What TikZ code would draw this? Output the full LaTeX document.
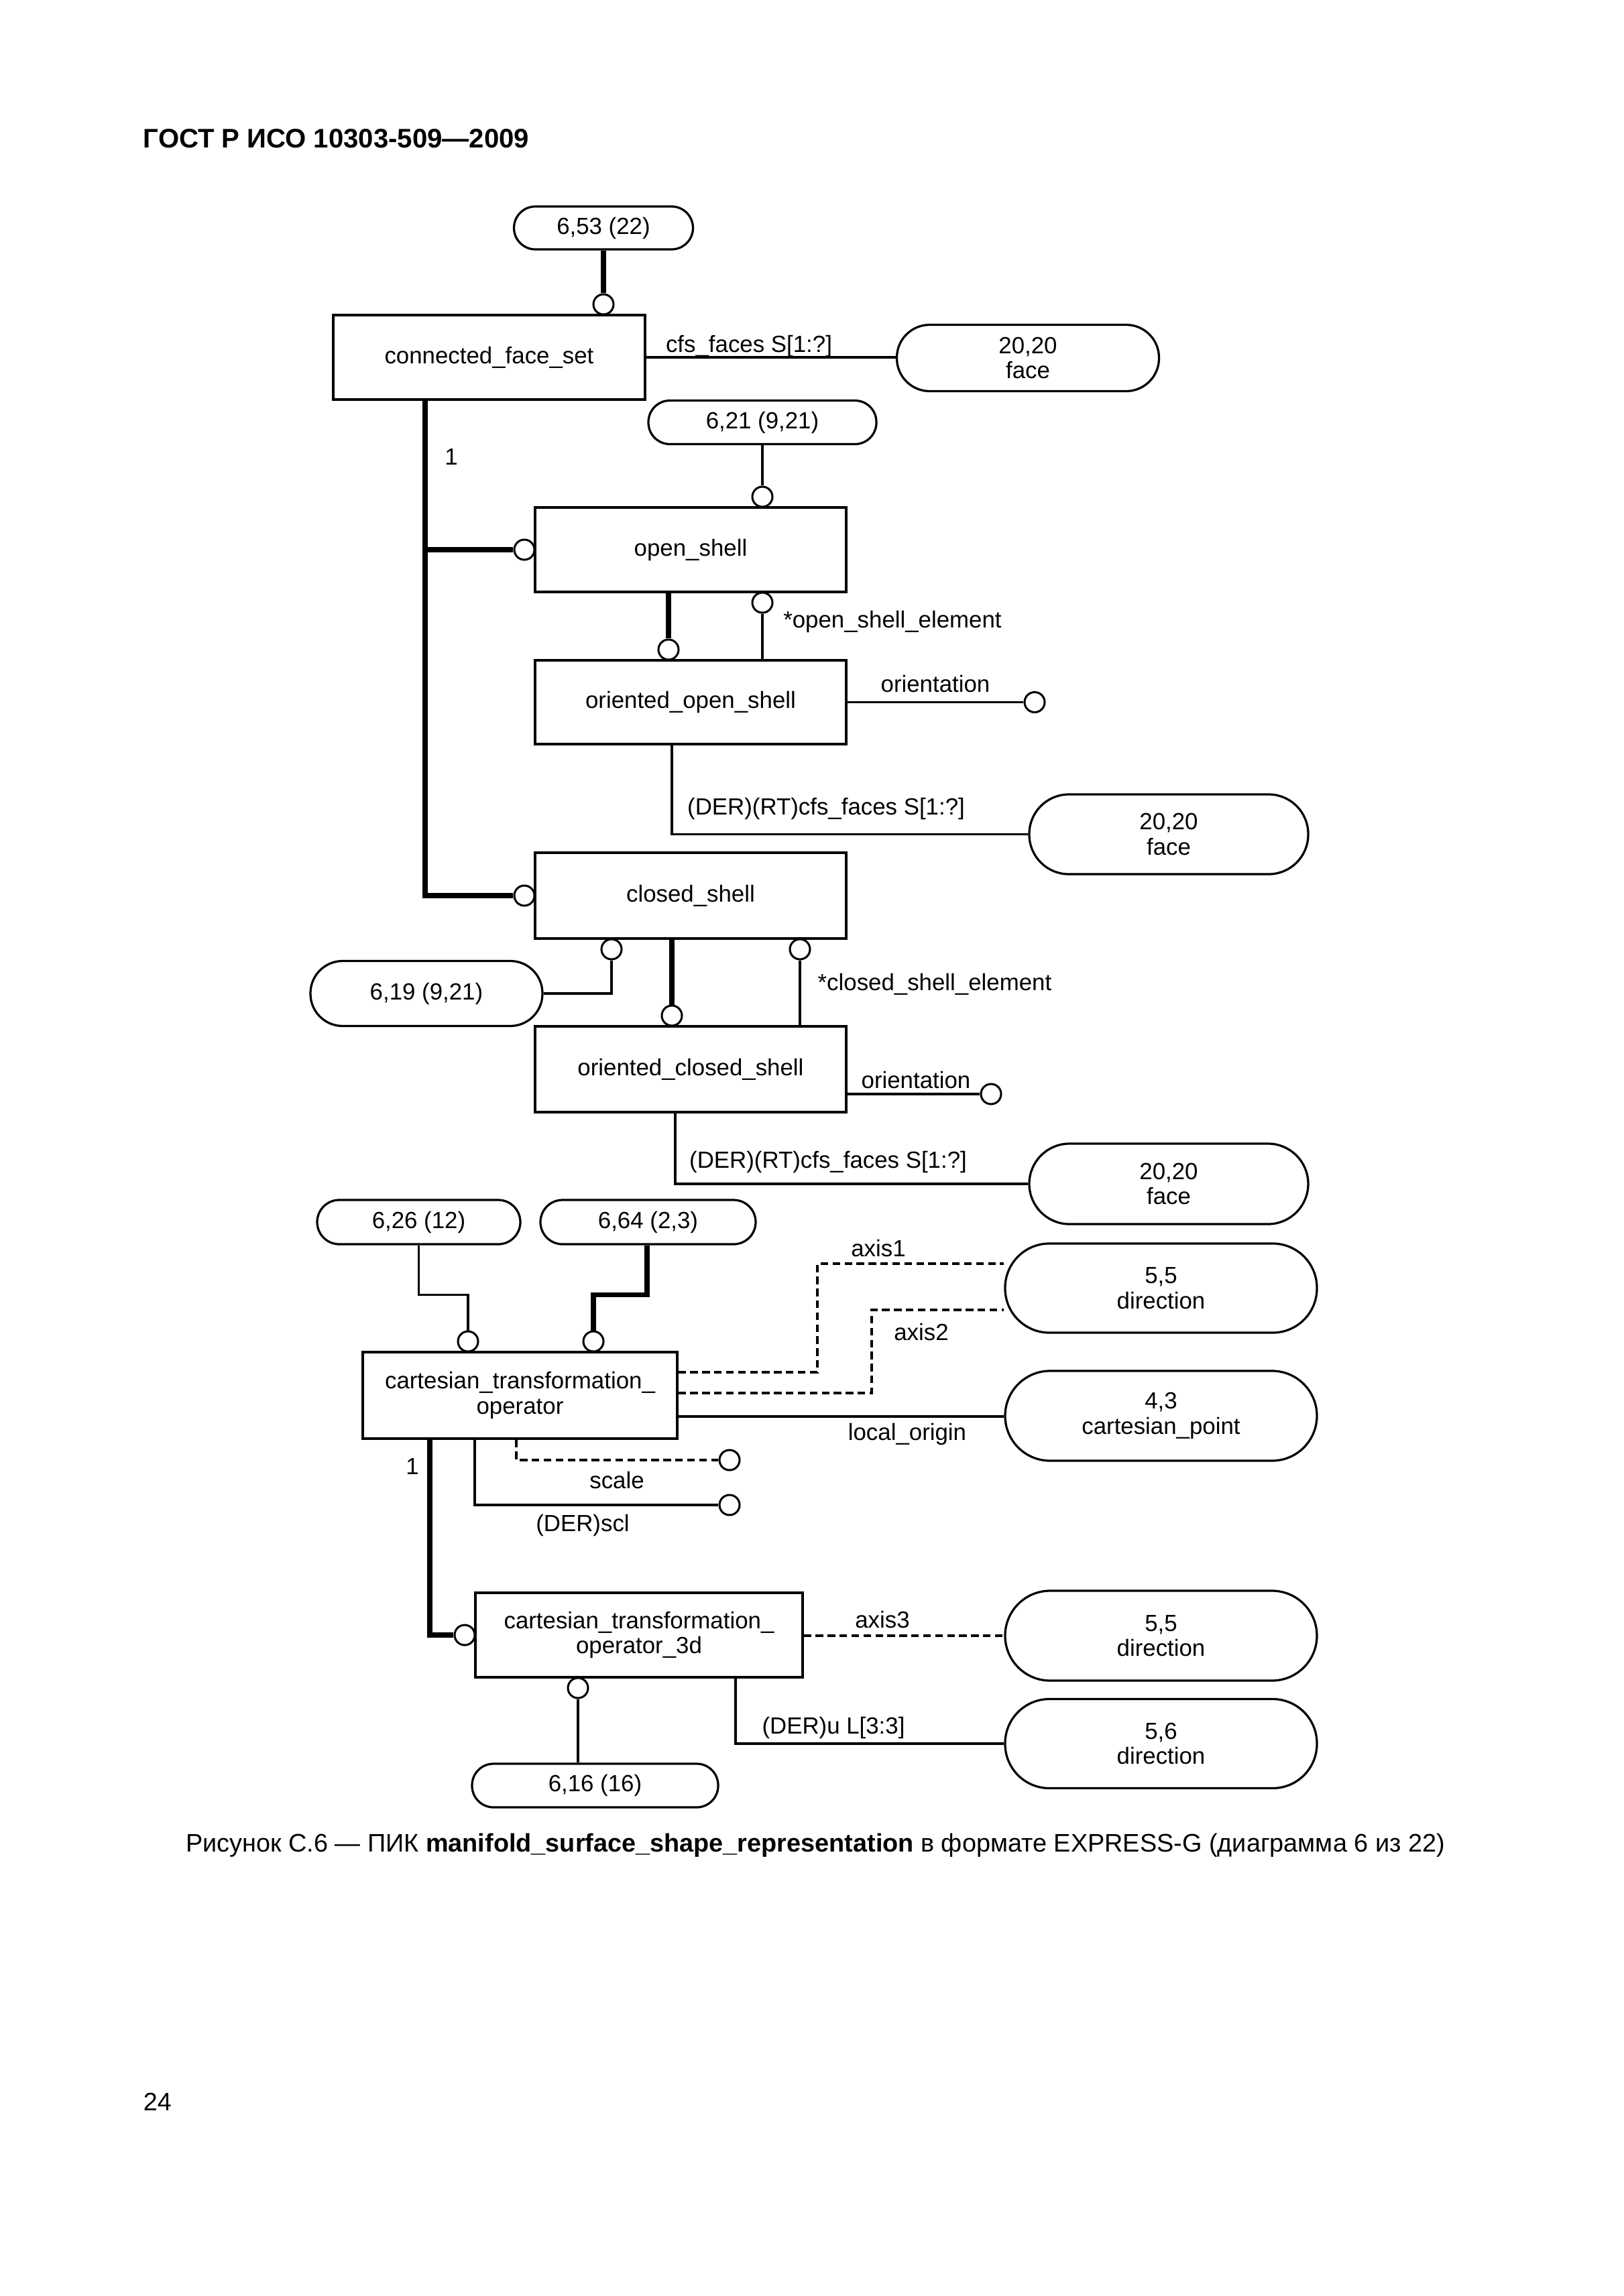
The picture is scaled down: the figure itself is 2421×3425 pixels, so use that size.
\documentclass[tikz,border=0pt]{standalone}
\usepackage{fontspec}
\setmainfont{Liberation Sans}
\usetikzlibrary{calc}
\pgfdeclarelayer{bg}
\pgfsetlayers{bg,main}
\def\u{0.08674mm}
\begin{document}
\begin{tikzpicture}[x=0.08674mm, y=-0.08674mm,
  txt/.style={font=\fontsize{8.6pt}{9.3pt}\selectfont},
  ent/.style={txt, draw, line width=0.8pt, fill=white, inner sep=0pt, align=center},
  circ/.style={circle, draw, fill=white, line width=0.75pt, minimum size=30*\u, inner sep=0pt},
  ln/.style={line width=0.8pt},
  thk/.style={line width=1.75pt},
  dsh/.style={line width=0.8pt, dash pattern=on 2.8pt off 1.6pt},
  lbl/.style={txt, inner sep=0pt}]
\useasboundingbox (0,0) rectangle (2421,3425);

% header, caption, page number
\node[anchor=west, inner sep=0pt, font=\fontsize{9.9pt}{11pt}\selectfont\bfseries] (hdr) at (213,207) {ГОСТ Р ИСО 10303-509—2009};
\node[inner sep=0pt, font=\fontsize{9.34pt}{11pt}\selectfont] (cap) at (1216,2753) {Рисунок С.6 — ПИК \textbf{manifold\_surface\_shape\_representation} в формате EXPRESS-G (диаграмма 6 из 22)};
\node[anchor=west, inner sep=0pt, font=\fontsize{9.3pt}{11pt}\selectfont] (pg) at (213,3135) {24};

% entity boxes
\node[ent, minimum width=465*\u, minimum height=126*\u] (cfs) at (729.5,533) {connected\_face\_set};
\node[ent, minimum width=464*\u, minimum height=126*\u] (os) at (1030,820) {open\_shell};
\node[ent, minimum width=464*\u, minimum height=125*\u] (oos) at (1030,1047.5) {oriented\_open\_shell};
\node[ent, minimum width=464*\u, minimum height=128*\u] (cs) at (1030,1336) {closed\_shell};
\node[ent, minimum width=464*\u, minimum height=128*\u] (ocs) at (1030,1595) {oriented\_closed\_shell};
\node[ent, minimum width=469*\u, minimum height=129*\u] (cto) at (775.5,2081.5) {cartesian\_transformation\_\\operator};
\node[ent, minimum width=488*\u, minimum height=126*\u] (cto3) at (953,2439) {cartesian\_transformation\_\\operator\_3d};

% reference boxes
\node[ent, rounded corners=32*\u, minimum width=267*\u, minimum height=64*\u] (r653) at (900,340) {6,53 (22)};
\node[ent, rounded corners=49*\u, minimum width=391*\u, minimum height=99*\u] (face1) at (1533,534) {20,20\\face};
\node[ent, rounded corners=32*\u, minimum width=340*\u, minimum height=65*\u] (r621) at (1137,630) {6,21 (9,21)};
\node[ent, rounded corners=59*\u, minimum width=416*\u, minimum height=119*\u] (face2) at (1743,1244.5) {20,20\\face};
\node[ent, rounded corners=48*\u, minimum width=346*\u, minimum height=97*\u] (r619) at (636,1482) {6,19 (9,21)};
\node[ent, rounded corners=60*\u, minimum width=416*\u, minimum height=120*\u] (face3) at (1743,1766) {20,20\\face};
\node[ent, rounded corners=33*\u, minimum width=303*\u, minimum height=66*\u] (r626) at (624.5,1823) {6,26 (12)};
\node[ent, rounded corners=33*\u, minimum width=321*\u, minimum height=66*\u] (r664) at (966.5,1823) {6,64 (2,3)};
\node[ent, rounded corners=66*\u, minimum width=465*\u, minimum height=133*\u] (dir1) at (1731.5,1921.5) {5,5\\direction};
\node[ent, rounded corners=67*\u, minimum width=465*\u, minimum height=134*\u] (cp) at (1731.5,2112) {4,3\\cartesian\_point};
\node[ent, rounded corners=67*\u, minimum width=465*\u, minimum height=134*\u] (dir2) at (1731.5,2440) {5,5\\direction};
\node[ent, rounded corners=66*\u, minimum width=465*\u, minimum height=133*\u] (dir3) at (1731.5,2601) {5,6\\direction};
\node[ent, rounded corners=32*\u, minimum width=367*\u, minimum height=65*\u] (r616) at (887.5,2663.5) {6,16 (16)};

% circles
\node[circ] (c1) at (900,454) {};
\node[circ] (cosl) at (782,820) {};
\node[circ] (cost) at (1137,741) {};
\node[circ] (cosb) at (1137,899) {};
\node[circ] (coost) at (997,969) {};
\node[circ] (cor1) at (1543,1047.5) {};
\node[circ] (ccsl) at (782,1336) {};
\node[circ] (ccsb1) at (912,1416) {};
\node[circ] (ccsb2) at (1193,1416) {};
\node[circ] (cocst) at (1002,1515) {};
\node[circ] (cor2) at (1478,1632) {};
\node[circ] (cct1) at (698,2001) {};
\node[circ] (cct2) at (885,2001) {};
\node[circ] (cscale) at (1088,2178) {};
\node[circ] (cscl) at (1088,2245) {};
\node[circ] (cc3l) at (693,2439) {};
\node[circ] (cc3b) at (862,2518) {};

% bend coordinates
\coordinate (barx) at (634,0);
\coordinate (a1) at (1219,1885);
\coordinate (a2) at (1300,1954);

% labels
\node[lbl] (l1) at (1117,516) {cfs\_faces S[1:?]};
\node[lbl] (l2) at (673,682) {1};
\node[lbl] (l3) at (1331,927) {*open\_shell\_element};
\node[lbl] (l4) at (1395,1020) {orientation};
\node[lbl] (l5) at (1232,1206) {(DER)(RT)cfs\_faces S[1:?]};
\node[lbl] (l6) at (1394,1468) {*closed\_shell\_element};
\node[lbl] (l7) at (1366,1611) {orientation};
\node[lbl] (l8) at (1235,1733) {(DER)(RT)cfs\_faces S[1:?]};
\node[lbl] (l9) at (1310,1862) {axis1};
\node[lbl] (l10) at (1374,1987) {axis2};
\node[lbl] (l11) at (1353,2139) {local\_origin};
\node[lbl] (l12) at (920,2208) {scale};
\node[lbl] (l13) at (869,2275) {(DER)scl};
\node[lbl] (l14) at (615,2187) {1};
\node[lbl] (l15) at (1316,2416) {axis3};
\node[lbl] (l16) at (1243,2577) {(DER)u L[3:3]};

\begin{pgfonlayer}{bg}
\fill[white] (0,0) rectangle (2421,3425);
\draw[thk] (r653.south) -- (c1.north);
\draw[ln] (cfs.east) -- (cfs.east -| face1.west);
\draw[ln] (r621.south) -- (cost.north);
\draw[thk] (cfs.south -| barx) |- (ccsl.west);
\draw[thk] (barx |- cosl) -- (cosl.west);
\draw[thk] (coost.north |- os.south) -- (coost.north);
\draw[ln] (cosb.south) -- (cosb.south |- oos.north);
\draw[ln] (oos.east |- cor1) -- (cor1.west);
\draw[ln] (oos.south -| 1002,0) |- (face2.west);
\draw[ln] (ccsb1.south) |- (r619.east);
\draw[thk] (cocst.north |- cs.south) -- (cocst.north);
\draw[ln] (ccsb2.south) -- (ccsb2.south |- ocs.north);
\draw[ln] (ocs.east |- cor2) -- (cor2.west);
\draw[ln] (ocs.south -| 1007,0) |- (face3.west);
\draw[ln] (r626.south) -- ++(0,74) -| (cct1.north);
\draw[thk] (r664.south -| 965,0) -- ++(0,74) -| (cct2.north);
\draw[dsh] (cto.east |- 0,2047) -| (a1) -- (a1 -| dir1.west);
\draw[dsh] (cto.east |- 0,2078) -| (a2) -- (a2 -| dir1.west);
\draw[ln] (cto.east |- 0,2113) -- (cp.west |- 0,2113);
\draw[dsh] (cto.south -| 770,0) |- (cscale.west);
\draw[ln] (cto.south -| 708,0) |- (cscl.west);
\draw[thk] (cto.south -| 641,0) |- (cc3l.west);
\draw[dsh] (cto3.east |- dir2.west) -- (dir2.west);
\draw[ln] (cc3b.south) -- (cc3b.south |- r616.north);
\draw[ln] (cto3.south -| 1097,0) |- (dir3.west);
\end{pgfonlayer}
\end{tikzpicture}
\end{document}
